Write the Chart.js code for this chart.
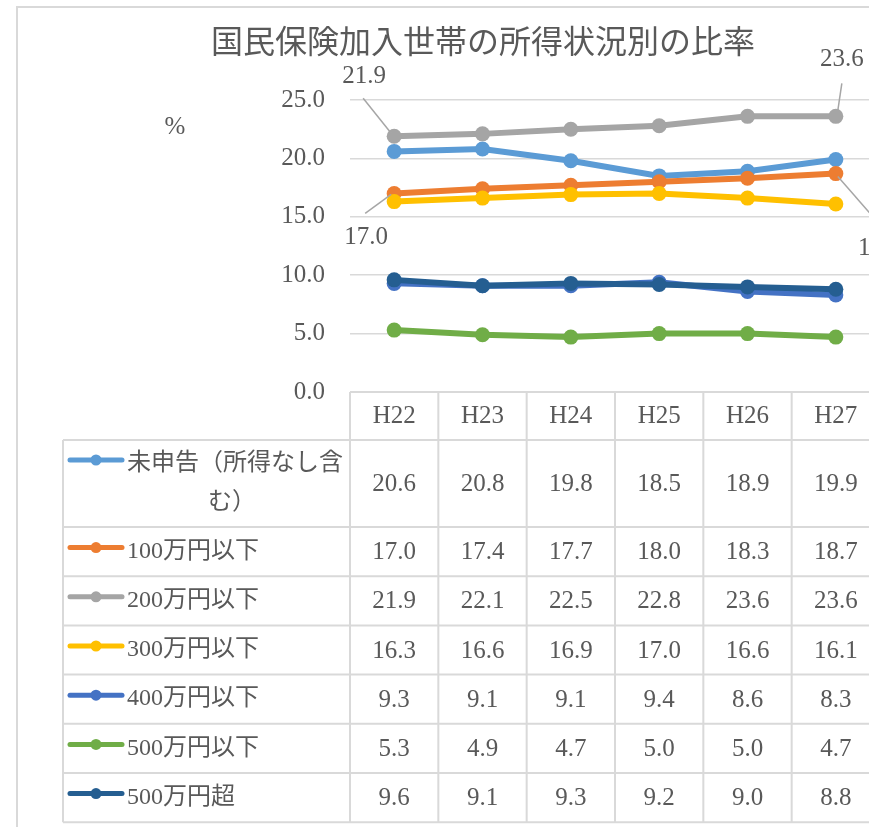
<html>
<head>
	<meta charset="utf-8">
	<title>国民保険加入世帯の所得状況別の比率</title>
	<script src="https://cdn.jsdelivr.net/npm/chart.js@4/dist/chart.umd.min.js"></script>
	<style>
		body { margin: 0; overflow: hidden; background: #fff; }
	</style>
</head>
<body>
	<canvas id="myChart" width="950" height="827"></canvas>

	<script>

		// Données
		var annees = ["H22", "H23", "H24", "H25", "H26", "H27"];

		var noms = ["未申告（所得なし含む）", "100万円以下", "200万円以下", "300万円以下", "400万円以下", "500万円以下", "500万円超"];

		var mishinkoku = [20.6, 20.8, 19.8, 18.5, 18.9, 19.9];
		var ika100 = [17.0, 17.4, 17.7, 18.0, 18.3, 18.7];
		var ika200 = [21.9, 22.1, 22.5, 22.8, 23.6, 23.6];
		var ika300 = [16.3, 16.6, 16.9, 17.0, 16.6, 16.1];
		var ika400 = [9.3, 9.1, 9.1, 9.4, 8.6, 8.3];
		var ika500 = [5.3, 4.9, 4.7, 5.0, 5.0, 4.7];
		var cho500 = [9.6, 9.1, 9.3, 9.2, 9.0, 8.8];

		var valeurs = [mishinkoku, ika100, ika200, ika300, ika400, ika500, cho500];

		var couleurs = ["#5B9BD5", "#ED7D31", "#A5A5A5", "#FFC000", "#4472C4", "#70AD47", "#255E91"];

		var titre = "国民保険加入世帯の所得状況別の比率";

		var gris = "#595959";
		var bordure = "#d9d9d9";
		var police = "'Liberation Serif', 'Noto Sans CJK JP', serif";

		Chart.defaults.font.family = police;
		Chart.defaults.font.size = 25;
		Chart.defaults.color = gris;

		var datasets = [];
		for (var i = 0; i < noms.length; i++) {
			datasets.push({
				label: noms[i],
				data: valeurs[i],
				borderColor: couleurs[i],
				backgroundColor: couleurs[i],
				pointBackgroundColor: couleurs[i],
				pointBorderWidth: 0,
				pointRadius: 7.5,
				borderWidth: 6,
				tension: 0,
				fill: false,
				order: noms.length - i
			});
		}

		// étiquettes de données déplacées (comme dans Excel) : [serie, point, dx texte, dy texte, dx1, dy1, dx2, dy2]
		var etiquettes = [
			[2, 0, -30, -60, -31, -38, -3, -3],
			[2, 5, 6, -57, 6, -33, 2, -6],
			[1, 0, -28, 44, -29, 20, -3, 1],
			[1, 5, 44, 75, 2, 3, 50, 58]
		];

		// Titre, unité, étiquettes et tableau de données
		var decor = {
			id: 'decor',
			afterDraw: function(chart) {
				var ctx = chart.ctx;
				var a = chart.chartArea;
				var x = chart.scales.x;

				ctx.save();

				// cadre
				ctx.strokeStyle = bordure;
				ctx.lineWidth = 2;
				ctx.strokeRect(17, 7, 1000, 1000);

				// titre
				ctx.fillStyle = gris;
				ctx.textAlign = 'center';
				ctx.textBaseline = 'middle';
				ctx.font = "32px 'Noto Sans CJK JP', sans-serif";
				ctx.fillText(titre, 483, 41);

				ctx.font = "25px " + police;
				ctx.fillText("%", 175, 127);

				// étiquettes
				ctx.strokeStyle = "#a6a6a6";
				ctx.lineWidth = 1.5;
				for (var e = 0; e < etiquettes.length; e++) {
					var et = etiquettes[e];
					var p = chart.getDatasetMeta(et[0]).data[et[1]];
					ctx.beginPath();
					ctx.moveTo(p.x + et[4], p.y + et[5]);
					ctx.lineTo(p.x + et[6], p.y + et[7]);
					ctx.stroke();
					ctx.fillText(valeurs[et[0]][et[1]].toFixed(1), p.x + et[2], p.y + et[3]);
				}

				// tableau
				var demi = (x.getPixelForValue(1) - x.getPixelForValue(0)) / 2;
				var gauche = 63;
				var droite = x.getPixelForValue(annees.length - 1) + demi;
				var hauteurs = [48, 87, 49.2, 49.2, 49.2, 49.2, 49.2, 49.2];
				var ys = [a.bottom];
				for (var r = 0; r < hauteurs.length; r++) {
					ys.push(ys[r] + hauteurs[r]);
				}
				var bas = ys[ys.length - 1];

				ctx.strokeStyle = bordure;
				ctx.lineWidth = 2;
				ctx.beginPath();
				for (var r = 0; r < ys.length; r++) {
					ctx.moveTo(r == 0 ? a.left : gauche, ys[r]);
					ctx.lineTo(droite, ys[r]);
				}
				ctx.moveTo(gauche, ys[1]);
				ctx.lineTo(gauche, bas);
				for (var k = 0; k <= annees.length; k++) {
					var xx = x.getPixelForValue(0) - demi + k * demi * 2;
					ctx.moveTo(xx, ys[0]);
					ctx.lineTo(xx, bas);
				}
				ctx.stroke();

				ctx.fillStyle = gris;
				ctx.textAlign = 'center';
				ctx.textBaseline = 'middle';
				for (var k = 0; k < annees.length; k++) {
					ctx.fillText(annees[k], x.getPixelForValue(k), (ys[0] + ys[1]) / 2);
				}

				for (var s = 0; s < noms.length; s++) {
					var y0 = ys[s + 1], y1 = ys[s + 2];
					var cy = (y0 + y1) / 2;

					ctx.font = "25px " + police;
					for (var k = 0; k < annees.length; k++) {
						ctx.fillText(valeurs[s][k].toFixed(1), x.getPixelForValue(k), cy + 1);
					}

					// découpe du libellé
					ctx.font = "24px " + police;
					var maxW = 345 - 127;
					var lignes = [""];
					for (var c = 0; c < noms[s].length; c++) {
						var essai = lignes[lignes.length - 1] + noms[s][c];
						if (ctx.measureText(essai).width > maxW) {
							lignes.push(noms[s][c]);
						} else {
							lignes[lignes.length - 1] = essai;
						}
					}
					var pas = 39;
					var ly = cy - (lignes.length - 1) * pas / 2;

					// marqueur de légende
					ctx.strokeStyle = couleurs[s];
					ctx.lineWidth = 5;
					ctx.lineCap = 'round';
					ctx.beginPath();
					ctx.moveTo(70, ly - 4);
					ctx.lineTo(122, ly - 4);
					ctx.stroke();
					ctx.fillStyle = couleurs[s];
					ctx.beginPath();
					ctx.arc(96, ly - 4, 5.5, 0, Math.PI * 2);
					ctx.fill();

					ctx.fillStyle = gris;
					for (var l = 0; l < lignes.length; l++) {
						if (l == 0) {
							ctx.textAlign = 'left';
							ctx.fillText(lignes[l], 127, ly);
						} else {
							ctx.textAlign = 'center';
							ctx.fillText(lignes[l], 232, ly + l * pas);
						}
					}
					ctx.textAlign = 'center';
				}

				ctx.restore();
			}
		};

		var ctx = document.getElementById('myChart').getContext('2d');
		var chart = new Chart(ctx, {
			type: 'line',
			data: {
				labels: annees,
				datasets: datasets
			},
			options: {
				responsive: false,
				animation: false,
				layout: {
					padding: { left: 17, top: 100, right: 70, bottom: 435 }
				},
				plugins: {
					legend: { display: false },
					title: { display: false },
					tooltip: { enabled: false }
				},
				scales: {
					x: {
						type: 'category',
						offset: true,
						display: false
					},
					y: {
						min: 0,
						max: 25,
						afterFit: function(scale) { scale.width = 333; },
						border: { display: false },
						grid: { color: bordure, lineWidth: 1.5, drawTicks: false },
						ticks: {
							stepSize: 5,
							padding: 25,
							callback: function(v) { return v.toFixed(1); }
						}
					}
				}
			},
			plugins: [decor]
		});

	</script>
</body>
</html>
